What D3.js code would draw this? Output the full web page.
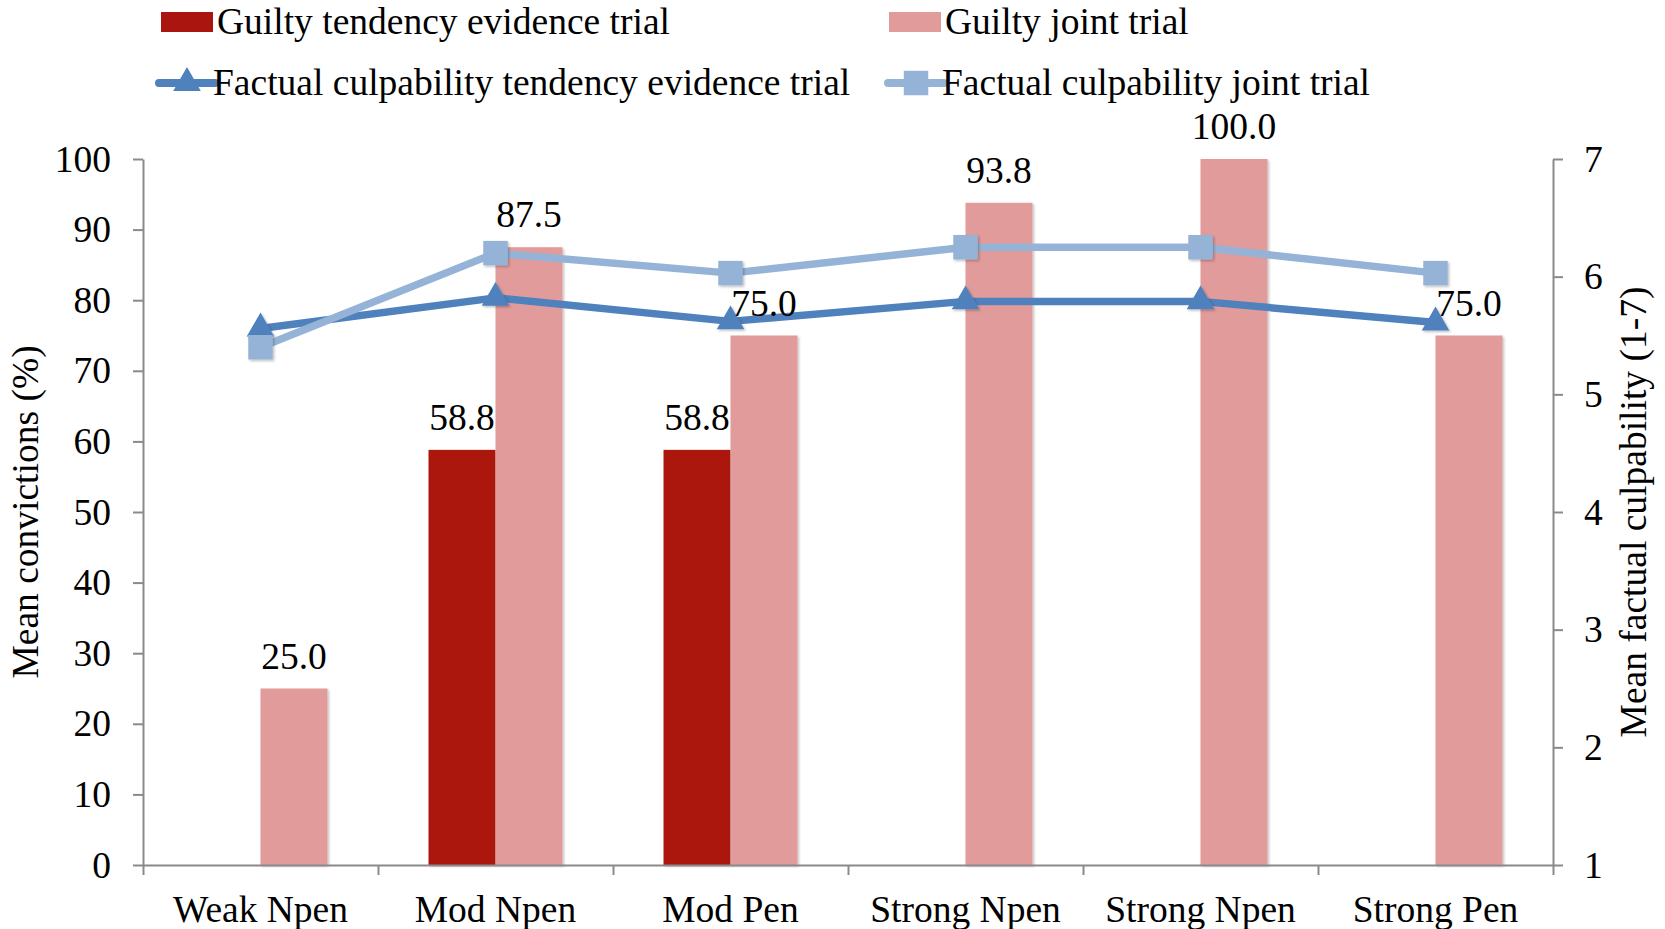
<!DOCTYPE html>
<html>
<head>
<meta charset="utf-8">
<script src="https://cdn.jsdelivr.net/npm/d3@7"></script>
<style>
  html, body { margin: 0; padding: 0; background: #fff; }
  svg { display: block; }
  text { font-family: "Liberation Serif", "Times New Roman", serif; fill: #000; }
</style>
</head>
<body>
<svg id="chart" width="1665" height="929"></svg>
<script>
// ---- data ----
const categories = ["Weak Npen", "Mod Npen", "Mod Pen", "Strong Npen", "Strong Npen", "Strong Pen"];
const guiltyTendency = [null, 58.8, 58.8, null, null, null];
const guiltyJoint = [25.0, 87.5, 75.0, 93.8, 100.0, 75.0];
const factualTendency = [5.56, 5.82, 5.62, 5.79, 5.79, 5.61];
const factualJoint = [5.40, 6.20, 6.03, 6.25, 6.25, 6.03];
const leftTicks = [0, 10, 20, 30, 40, 50, 60, 70, 80, 90, 100];
const rightTicks = [1, 2, 3, 4, 5, 6, 7];
const seriesNames = ["Guilty tendency evidence trial", "Guilty joint trial",
  "Factual culpability tendency evidence trial", "Factual culpability joint trial"];

// ---- styles ----
const C = { dark: "#AB1510", pink: "#E29B9B", blue: "#4F81BD", lblue: "#95B3D7", axis: "#8A8A8A" };
const FS = 37.5;

const svg = d3.select("#chart");
const L = 143, R = 1553, T = 159, B = 865;

const defs = svg.append("defs");
const f = defs.append("filter").attr("id", "sh").attr("x", "-30%").attr("y", "-30%").attr("width", "160%").attr("height", "160%");
f.append("feDropShadow").attr("dx", 1.5).attr("dy", 1.5).attr("stdDeviation", 1.2)
  .attr("flood-color", "#000").attr("flood-opacity", 0.25);

const idx = d3.range(categories.length);
const x = d3.scaleBand().domain(idx).range([L, R]).padding(0);
const xb = d3.scaleLinear().domain([0, categories.length]).range([L, R]);
const yL = d3.scaleLinear().domain([0, 100]).range([B, T]);
const yR = d3.scaleLinear().domain([1, 7]).range([B, T]);
const bw = x.bandwidth() * 0.285;

// ---- bars ----
const gBars = svg.append("g");
function bars(vals, color, offset) {
  gBars.selectAll(null).data(idx.filter(i => vals[i] != null)).enter().append("rect")
    .attr("x", i => x(i) + x.bandwidth() / 2 + offset)
    .attr("y", i => yL(vals[i]))
    .attr("width", bw)
    .attr("height", i => B - yL(vals[i]))
    .attr("fill", color)
    .attr("filter", "url(#sh)");
}
bars(guiltyTendency, C.dark, -bw);
bars(guiltyJoint, C.pink, 0);

// ---- axes ----
function styleAxis(g) {
  g.selectAll("path, line").attr("stroke", C.axis).attr("stroke-width", 2);
  g.selectAll("text").style("font-size", FS + "px").style("font-family", '"Liberation Serif", serif').attr("fill", "#000");
}
svg.append("g").attr("transform", `translate(${L},0)`)
  .call(d3.axisLeft(yL).tickValues(leftTicks).tickSize(10).tickSizeOuter(0).tickPadding(22).tickFormat(d3.format("d")))
  .call(styleAxis);
svg.append("g").attr("transform", `translate(${R},0)`)
  .call(d3.axisRight(yR).tickValues(rightTicks).tickSize(10).tickSizeOuter(0).tickPadding(21).tickFormat(d3.format("d")))
  .call(styleAxis);
svg.append("g").attr("transform", `translate(0,${B})`)
  .call(d3.axisBottom(xb).tickValues(d3.range(categories.length + 1)).tickSize(10).tickSizeOuter(0).tickFormat(""))
  .call(styleAxis);
svg.append("g").attr("transform", `translate(0,${B})`)
  .call(d3.axisBottom(x).tickSize(0).tickPadding(30).tickFormat(i => categories[i]))
  .call(g => g.select(".domain").remove())
  .call(styleAxis);

// axis titles
svg.append("text").attr("transform", `translate(25,${(T + B) / 2}) rotate(-90)`)
  .attr("text-anchor", "middle").attr("dy", "0.35em").style("font-size", FS + "px")
  .text("Mean convictions (%)");
svg.append("text").attr("transform", `translate(1633,${(T + B) / 2}) rotate(-90)`)
  .attr("text-anchor", "middle").attr("dy", "0.35em").style("font-size", FS + "px")
  .text("Mean factual culpability (1-7)");

// ---- lines ----
const cx = i => x(i) + x.bandwidth() / 2;
const line = d3.line().x((d, i) => cx(i)).y(d => yR(d));
function series(vals, color, sym, size) {
  svg.append("path").datum(vals).attr("d", line).attr("fill", "none")
    .attr("stroke", color).attr("stroke-width", 7.5).attr("stroke-linejoin", "round");
  svg.append("g").selectAll("path").data(vals).enter().append("path")
    .attr("d", d3.symbol().type(sym).size(size))
    .attr("transform", (d, i) => `translate(${cx(i)},${yR(d)})`)
    .attr("fill", color).attr("filter", "url(#sh)");
}
series(factualTendency, C.blue, d3.symbolTriangle, 330);
series(factualJoint, C.lblue, d3.symbolSquare, 600);

// ---- data labels ----
function labels(vals, offset) {
  svg.append("g").selectAll("text").data(idx.filter(i => vals[i] != null)).enter().append("text")
    .attr("x", i => x(i) + x.bandwidth() / 2 + offset + bw / 2)
    .attr("y", i => yL(vals[i]) - 20)
    .attr("text-anchor", "middle").style("font-size", FS + "px")
    .text(i => d3.format(".1f")(vals[i]));
}
labels(guiltyTendency, -bw);
labels(guiltyJoint, 0);

// ---- legend ----
const lg = svg.append("g");
const legendItems = [
  { name: seriesNames[0], type: "rect", color: C.dark, x: 161, y: 22 },
  { name: seriesNames[1], type: "rect", color: C.pink, x: 889, y: 22 },
  { name: seriesNames[2], type: "line", color: C.blue, sym: d3.symbolTriangle, size: 330, x: 157, y: 83 },
  { name: seriesNames[3], type: "line", color: C.lblue, sym: d3.symbolSquare, size: 600, x: 886, y: 83 }
];
legendItems.forEach(it => {
  const g = lg.append("g").attr("transform", `translate(${it.x},${it.y})`);
  if (it.type === "rect") {
    g.append("rect").attr("x", 0).attr("y", -10).attr("width", 52).attr("height", 20).attr("fill", it.color);
  } else {
    g.append("line").attr("x1", 2).attr("x2", 58).attr("y1", 0).attr("y2", 0)
      .attr("stroke", it.color).attr("stroke-width", 8).attr("stroke-linecap", "round");
    g.append("path").attr("d", d3.symbol().type(it.sym).size(it.size)).attr("transform", "translate(30,0)").attr("fill", it.color);
  }
  g.append("text").attr("x", 56).attr("y", 0).attr("dy", "0.33em").style("font-size", FS + "px").text(it.name);
});
</script>
</body>
</html>
